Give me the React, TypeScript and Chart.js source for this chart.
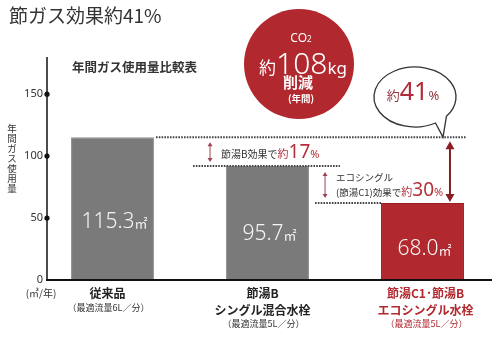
import React, { useEffect, useRef } from 'react';
import { Chart, registerables } from 'chart.js';

Chart.register(...registerables);

// ---- data ----
const categories = ['従来品', '節湯B シングル混合水栓', '節湯C1･節湯B エコシングル水栓'];
const categoryLines = [['従来品'], ['節湯B', 'シングル混合水栓'], ['節湯C1･節湯B', 'エコシングル水栓']];
const flowNotes = ['（最適流量6L／分）', '（最適流量5L／分）', '（最適流量5L／分）'];
const barHeights = [115.3, 92.0, 62.1];
const valueLabels = ['115.3', '95.7', '68.0'];
const yTicks = [0, 50, 100, 150];
const yMax = 180;
const savingB = '17';
const savingC1 = '30';
const savingTotal = '41';
const co2Reduction = '108';

const JP = '"Noto Sans CJK JP", "Noto Sans", sans-serif';
const NS = '"Noto Sans", "Noto Sans CJK JP", sans-serif';
const RED = '#b1282e';
const RED_TEXT = '#b3303a';

type Run = [string, string, string];

function drawRuns(ctx: CanvasRenderingContext2D, runs: Run[], x: number, y: number, align: 'left' | 'center' | 'right' = 'left') {
  ctx.textAlign = 'left';
  let total = 0;
  const widths = runs.map(([t, f]) => {
    ctx.font = f;
    const w = ctx.measureText(t).width;
    total += w;
    return w;
  });
  let cx = align === 'left' ? x : align === 'center' ? x - total / 2 : x - total;
  runs.forEach(([t, f, c], i) => {
    ctx.font = f;
    ctx.fillStyle = c;
    ctx.fillText(t, cx, y);
    cx += widths[i];
  });
}

function doubleArrow(ctx: CanvasRenderingContext2D, x: number, y1: number, y2: number, color: string, lw: number, hw: number, hh: number) {
  ctx.save();
  ctx.strokeStyle = color;
  ctx.fillStyle = color;
  ctx.lineWidth = lw;
  ctx.setLineDash([]);
  ctx.beginPath();
  ctx.moveTo(x, y1 + hh * 0.8);
  ctx.lineTo(x, y2 - hh * 0.8);
  ctx.stroke();
  ctx.beginPath();
  ctx.moveTo(x, y1);
  ctx.lineTo(x - hw, y1 + hh);
  ctx.lineTo(x + hw, y1 + hh);
  ctx.closePath();
  ctx.fill();
  ctx.beginPath();
  ctx.moveTo(x, y2);
  ctx.lineTo(x - hw, y2 - hh);
  ctx.lineTo(x + hw, y2 - hh);
  ctx.closePath();
  ctx.fill();
  ctx.restore();
}

function dotted(ctx: CanvasRenderingContext2D, x1: number, x2: number, y: number) {
  ctx.save();
  ctx.strokeStyle = '#444';
  ctx.lineWidth = 2;
  ctx.setLineDash([1.6, 1.2]);
  ctx.beginPath();
  ctx.moveTo(x1, y);
  ctx.lineTo(x2, y);
  ctx.stroke();
  ctx.restore();
}

const overlay = {
  id: 'overlay',
  afterDraw(chart: any) {
    const ctx: CanvasRenderingContext2D = chart.ctx;
    const ys = chart.scales.y;
    const meta = chart.getDatasetMeta(0);
    const bars = meta.data.map((el: any) => ({
      x: el.x,
      top: el.y,
      bottom: el.base,
      left: el.x - el.width / 2,
      right: el.x + el.width / 2,
    }));
    const y0 = ys.getPixelForValue(0);
    const yTop = ys.getPixelForValue(yMax);
    const AX = 47;
    const AXR = chart.chartArea.right - 8;

    ctx.save();

    // title
    ctx.textBaseline = 'alphabetic';
    drawRuns(ctx, [['節ガス効果約41%', `19px ${JP}`, '#333']], 9, 23);
    drawRuns(ctx, [['年間ガス使用量比較表', `bold 12.5px ${JP}`, '#333']], 72, 72);

    // axes
    ctx.strokeStyle = '#111';
    ctx.lineWidth = 1.5;
    ctx.beginPath();
    ctx.moveTo(AX, yTop);
    ctx.lineTo(AX, y0);
    ctx.stroke();
    ctx.lineWidth = 2;
    ctx.beginPath();
    ctx.moveTo(AX - 1, y0);
    ctx.lineTo(AXR, y0);
    ctx.stroke();

    // ticks
    ctx.textBaseline = 'middle';
    yTicks.forEach((t) => {
      const py = ys.getPixelForValue(t);
      if (t > 0) {
        ctx.fillStyle = '#111';
        ctx.beginPath();
        ctx.arc(AX, py, 2.6, 0, Math.PI * 2);
        ctx.fill();
      }
      drawRuns(ctx, [[String(t), `11px ${NS}`, '#333']], AX - 4, py, 'right');
    });
    drawRuns(ctx, [['(㎥/年)', `10px ${JP}`, '#333']], 41, 293, 'center');

    // y title (vertical)
    const yTitle = '年間ガス使用量';
    ctx.textAlign = 'center';
    ctx.font = `9.5px ${JP}`;
    ctx.fillStyle = '#333';
    Array.from(yTitle).forEach((ch, i) => {
      ctx.fillText(ch, 12, 128 + i * 10);
    });

    // category labels
    categoryLines.forEach((lines, i) => {
      const c = i === 2 ? RED : '#222';
      const cx = bars[i].x - (i === 2 ? -3 : 5);
      lines.forEach((ln, j) => {
        drawRuns(ctx, [[ln, `bold 12px ${JP}`, c]], cx, 293 + j * 17, 'center');
      });
      drawRuns(ctx, [[flowNotes[i], `9px ${JP}`, i === 2 ? RED : '#333']], cx + 1, 292 + lines.length * 16, 'center');
    });

    // value labels in bars
    ctx.textBaseline = 'alphabetic';
    bars.forEach((b: any, i: number) => {
      const cy = b.top + 0.58 * (b.bottom - b.top);
      drawRuns(ctx, [[valueLabels[i], `300 21px ${NS}`, '#f4f4f4'], ['㎡', `13px ${JP}`, '#f4f4f4']], b.x + 2, cy + 7.5, 'center');
    });

    // dotted reference lines
    const lA = bars[0].top;
    const lB = bars[1].top;
    const lC = bars[2].top;
    dotted(ctx, bars[0].right + 2, bars[2].right + 2, lA);
    dotted(ctx, bars[1].left - 33, bars[1].right + 31, lB);
    dotted(ctx, bars[2].left - 66, bars[2].left, lC);

    // arrows
    const a17 = bars[1].left - 16;
    doubleArrow(ctx, a17, lA + 5, lB - 4, '#9c4452', 1, 2.5, 4);
    const a30 = bars[2].left - 56;
    doubleArrow(ctx, a30, lB + 6, lC - 5, '#9c4452', 1, 2.5, 4);
    const aBig = bars[2].right - 14;
    doubleArrow(ctx, aBig, lA + 4, lC - 1, '#8a1c24', 2, 4.5, 8);

    // annotation texts
    drawRuns(ctx, [
      ['節湯B効果で', `10px ${JP}`, '#333'],
      ['約', `11px ${JP}`, RED_TEXT],
      [savingB, `19px ${NS}`, RED_TEXT],
      ['%', `11px ${NS}`, RED_TEXT],
    ], a17 + 11, 158);
    ctx.textBaseline = 'middle';
    drawRuns(ctx, [['エコシングル', `9.5px ${JP}`, '#333']], a30 + 11, 177);
    ctx.textBaseline = 'alphabetic';
    drawRuns(ctx, [
      ['(節湯C1)効果で', `9.5px ${JP}`, '#333'],
      ['約', `11px ${JP}`, RED_TEXT],
      [savingC1, `19px ${NS}`, RED_TEXT],
      ['%', `11px ${NS}`, RED_TEXT],
    ], a30 + 11, 196);

    // red CO2 circle
    ctx.fillStyle = RED;
    ctx.beginPath();
    ctx.arc(299, 64, 55, 0, Math.PI * 2);
    ctx.fill();
    drawRuns(ctx, [['CO', `12px ${NS}`, '#fff'], ['2', `8px ${NS}`, '#fff']], 301, 42, 'center');
    drawRuns(ctx, [
      ['約', `17px ${JP}`, '#fff'],
      [co2Reduction, `300 30px ${NS}`, '#fff'],
      ['kg', `17px ${NS}`, '#fff'],
    ], 303, 74, 'center');
    drawRuns(ctx, [['削減', `bold 15px ${JP}`, '#fff']], 298, 88, 'center');
    drawRuns(ctx, [['(年間)', `bold 9.5px ${JP}`, '#fff']], 301, 102, 'center');

    // speech bubble
    const bx = 415, by = 97, rx = 41, ry = 30;
    const t1 = (40 * Math.PI) / 180;
    const t2 = (60 * Math.PI) / 180;
    ctx.beginPath();
    ctx.ellipse(bx, by, rx, ry, 0, t2, t1 + Math.PI * 2);
    ctx.lineTo(443, lA);
    ctx.closePath();
    ctx.fillStyle = '#fff';
    ctx.fill();
    ctx.strokeStyle = '#333';
    ctx.lineWidth = 1.3;
    ctx.setLineDash([]);
    ctx.stroke();
    drawRuns(ctx, [
      ['約', `13px ${JP}`, '#8f3540'],
      [savingTotal, `25px ${NS}`, '#b02a37'],
      ['%', `13px ${NS}`, '#8f3540'],
    ], 413, 100, 'center');

    ctx.restore();
  },
};

export default function App() {
  const ref = useRef<HTMLCanvasElement>(null);
  useEffect(() => {
    const chart = new Chart(ref.current as HTMLCanvasElement, {
      type: 'bar',
      data: {
        labels: categories,
        datasets: [
          {
            data: barHeights,
            backgroundColor: ['#7a7a7a', '#7a7a7a', RED],
            borderColor: ['#8f8f8f', '#8f8f8f', '#9a1f25'],
            borderWidth: 1,
            barPercentage: 0.535,
            categoryPercentage: 1,
          },
        ],
      },
      options: {
        responsive: false,
        animation: false,
        layout: { padding: { left: 35, right: 0, top: 57, bottom: 58 } },
        scales: {
          x: { display: false },
          y: { display: false, min: 0, max: yMax },
        },
        plugins: {
          legend: { display: false },
          tooltip: { enabled: false },
          title: { display: false },
        },
      },
      plugins: [overlay],
    });
    return () => chart.destroy();
  }, []);
  return (
    <div style={{ position: 'absolute', left: 0, top: 0, width: 500, height: 338, background: '#fff' }}>
      <canvas ref={ref} width={500} height={338} style={{ display: 'block' }} />
    </div>
  );
}
